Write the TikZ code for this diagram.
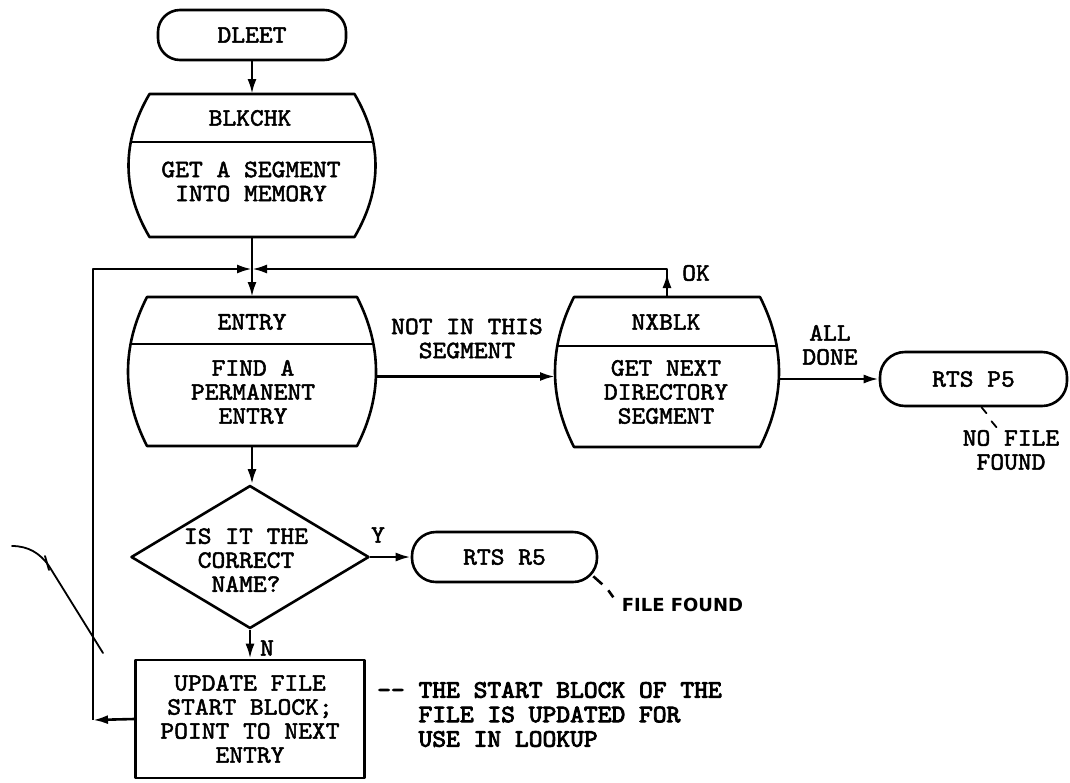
\documentclass[tikz,border=0pt]{standalone}
\usepackage{fontspec}
\usetikzlibrary{arrows.meta,calc,shapes.geometric}
\newfontfamily\twfam{lmmono10-regular.otf}[FakeStretch=1.05,FakeBold=2]
\newfontfamily\twbfam{lmmono10-regular.otf}[FakeStretch=1.05,FakeBold=3.5]
\newfontfamily\ffam{DejaVu Sans}
\newcommand\nodefont{\twfam\fontsize{25}{24}\selectfont}
\newcommand\cmtfont{\twbfam\fontsize{25}{24.5}\selectfont}
\newcommand\ffont{\ffam\bfseries\fontsize{18}{20}\selectfont}
% barrel outline: cx, top, bottom, half top width, half bulge width
\newcommand\barrelpath[5]{({#1-#4},#2) -- ({#1+#4},#2)
  .. controls ({#1+#4+(#5-#4)*4/3},{#2+(#3-#2)/3}) and ({#1+#4+(#5-#4)*4/3},{#2+2*(#3-#2)/3}) .. ({#1+#4},#3)
  -- ({#1-#4},#3)
  .. controls ({#1-#4-(#5-#4)*4/3},{#2+2*(#3-#2)/3}) and ({#1-#4-(#5-#4)*4/3},{#2+(#3-#2)/3}) .. cycle}
\newcommand\barrel[6]{%
  \draw[shp] \barrelpath{#1}{#2}{#3}{#4}{#5};
  \begin{scope}
    \clip \barrelpath{#1}{#2}{#3}{#4}{#5};
    \draw[shp] ({#1-200},#6) -- ({#1+200},#6);
  \end{scope}}
\begin{document}
\begin{tikzpicture}[x=1pt,y=-1pt,
  shp/.style={line width=2.6pt, line join=round},
  arr/.style={shp,-{Latex[length=15pt,width=9pt]}},
  term/.style={shp, draw, rectangle, inner sep=0, font=\nodefont},
  anchorbox/.style={rectangle, draw=none, inner sep=0, outer sep=0},
  txt/.style={font=\nodefont, align=center, inner sep=0},
  pen/.style={line width=1.8pt, line cap=round}]
\fill[white] (0,0) rectangle (1070,782);
\useasboundingbox (0,0) rectangle (1070,782);

% start
\node[term, rounded corners=22pt, minimum width=188pt, minimum height=50pt] (dleet) at (252,35) {DLEET};

% BLKCHK
\barrel{252}{94}{237}{102.5}{123.5}{142}
\node[anchorbox, minimum width=247pt, minimum height=143pt] (blkchk) at (252,165.5) {};
\node[txt] (blkT) at (250,118) {BLKCHK};
\node[txt] (blkB) at (251,181.5) {GET A SEGMENT\\INTO MEMORY};

% ENTRY
\barrel{252}{297}{446}{105}{124}{344}
\node[anchorbox, minimum width=248pt, minimum height=149pt] (entry) at (252,371.5) {};
\node[txt] (entT) at (252,322) {ENTRY};
\node[txt] (entB) at (253,392) {FIND A\\PERMANENT\\ENTRY};

% NXBLK
\barrel{667}{297}{447}{93}{112}{346}
\node[anchorbox, minimum width=224pt, minimum height=150pt] (nxblk) at (667,372) {};
\node[txt] (nxT) at (666,322) {NXBLK};
\node[txt] (nxB) at (666,392) {GET NEXT\\DIRECTORY\\SEGMENT};

% exits
\node[term, rounded corners=25pt, minimum width=187pt, minimum height=54pt] (rtsp5) at (973.5,379) {RTS P5};
\node[shp, draw, diamond, minimum width=238pt, minimum height=143pt, inner sep=0] (dec) at (250,557) {};
\node[txt] (decT) at (246,560) {IS IT THE\\CORRECT\\NAME?};
\node[term, rounded corners=24pt, minimum width=185pt, minimum height=50pt] (rtsr5) at (504.5,557) {RTS R5};
\node[term, minimum width=229pt, minimum height=118pt, align=center] (upd) at (250,719) {UPDATE FILE\\START BLOCK;\\POINT TO NEXT\\ENTRY};

% labels
\node[txt] (lnot) at (467,338.5) {NOT IN THIS\\SEGMENT};
\node[txt] (lok) at (696,273) {OK};
\node[txt] (lall) at (830,345) {ALL\\DONE};
\node[txt] (ly) at (378,535) {Y};
\node[txt] (lno) at (267,648) {N};
\node[txt] (lnf) at (1011,450) {NO FILE\\FOUND};
\node[font=\ffont, inner sep=0] (lff) at (682.5,605) {FILE FOUND};
\node[font=\cmtfont, align=left, inner sep=0, anchor=west] (cmt) at (377,714.5)
  {\mbox{-}\mbox{-} THE START BLOCK OF THE\\\hphantom{\mbox{-}\mbox{-}\ }FILE IS UPDATED FOR\\\hphantom{\mbox{-}\mbox{-}\ }USE IN LOOKUP};

% connectors
\coordinate (J) at (252,269);
\coordinate (L) at (93,720);
\draw[arr] (dleet) -- (blkchk.north);
\draw[shp] (blkchk.south) -- (J);
\draw[arr] (J) -- (entry.north);
\draw[arr] (L) |- (J);
\draw[arr] (nxblk.north) |- (J);
\draw[arr] (nxblk.north) -- ++(0,-24);
\draw[arr] ([yshift=-5pt]entry.east) -- ([yshift=-5pt]entry.east -| nxblk.west);
\draw[arr] (nxblk.east |- rtsp5.west) -- (rtsp5.west);
\draw[arr] (entry.south) -- (entry.south |- dec.north);
\draw[arr] (dec.east) -- (rtsr5.west);
\draw[arr] (dec.south) -- (upd.north);
\draw[arr] (upd.west) -- (L);

% pointer ticks to notes
\draw[shp] ($(rtsr5.south east)+(-5,-7)$) -- ++(9,8);
\draw[shp] ($(rtsr5.south east)+(10,7)$) -- ++(5,7);
\draw[pen] ($(rtsp5.south)+(8,0)$) -- ++(5,6);
\draw[pen] ($(rtsp5.south)+(18,14)$) -- ++(5,6);

% stray pen stroke
\draw[pen] (12,546) .. controls (28,546) and (40,553) .. (49,566) -- (103,653);
\draw[pen] (45,556) -- (49,570);
\end{tikzpicture}
\end{document}
